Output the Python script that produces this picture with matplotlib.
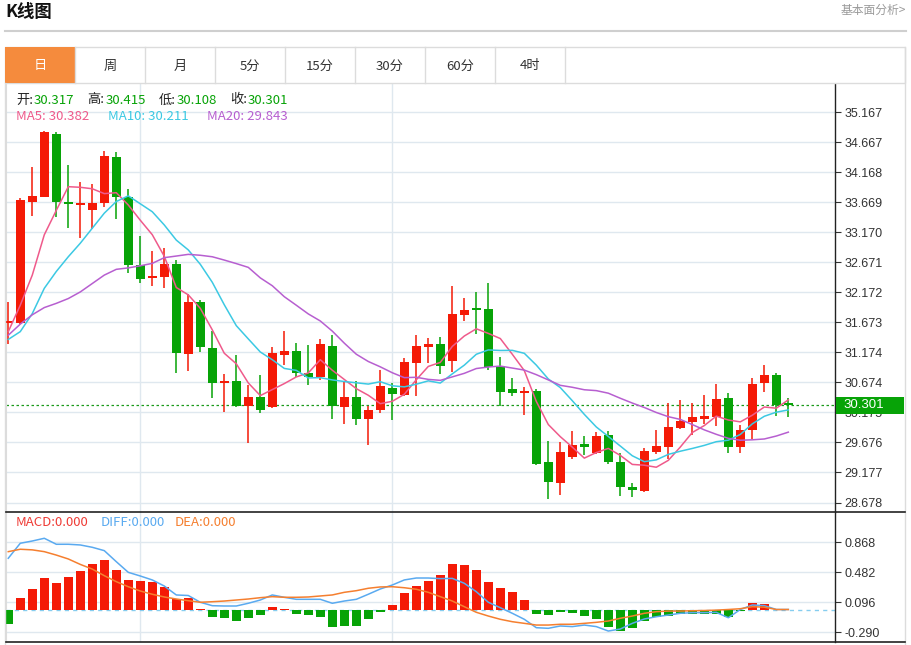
import matplotlib
matplotlib.use('Agg')
import matplotlib.pyplot as plt
from matplotlib.patches import Rectangle
import numpy as np
import pandas as pd

plt.rcParams['font.family'] = ['Noto Sans CJK SC', 'DejaVu Sans']

# daily candles
opens = [31.66, 31.657, 33.675, 33.763, 34.806, 33.68, 33.63, 33.542, 33.653, 34.428,
         33.753, 32.627, 32.41, 32.433, 32.644, 31.147, 32.017, 31.252, 30.66, 30.703,
         30.282, 30.426, 30.26, 31.13, 31.197, 30.83, 30.76, 31.28, 30.26, 30.431,
         30.066, 30.215, 30.581, 30.465, 31.002, 31.258, 31.313, 31.03, 31.795, 31.895,
         31.895, 30.947, 30.569, 30.50, 30.531, 29.345, 28.996, 29.438, 29.65, 29.505,
         29.80, 29.355, 28.94, 28.873, 29.522, 29.605, 29.92, 30.02, 30.07, 30.094,
         30.42, 29.594, 29.883, 30.659, 30.797, 30.317]
highs = [32.02, 33.74, 34.262, 34.856, 34.84, 34.29, 34.008, 33.975, 34.53, 34.507,
         33.886, 33.109, 32.86, 32.915, 32.71, 32.145, 32.045, 31.534, 30.814, 31.13,
         30.63, 30.797, 31.258, 31.53, 31.325, 31.296, 31.396, 31.463, 30.686, 30.697,
         30.282, 30.88, 30.66, 31.075, 31.463, 31.408, 31.425, 32.283, 32.083, 32.183,
         32.323, 31.092, 30.743, 30.593, 30.56, 29.699, 29.678, 29.866, 29.783, 29.855,
         29.871, 29.495, 29.006, 29.578, 29.882, 30.327, 30.381, 30.337, 30.465, 30.648,
         30.493, 29.965, 30.743, 30.964, 30.836, 30.415]
lows = [31.31, 31.65, 33.447, 33.763, 33.42, 33.237, 33.076, 33.22, 33.587, 33.397,
        32.499, 32.323, 32.278, 32.24, 30.826, 30.869, 31.185, 30.41, 30.177, 30.27,
        29.66, 30.17, 30.243, 30.97, 30.77, 30.63, 30.714, 30.06, 29.977, 29.965,
        29.633, 30.17, 30.049, 30.453, 30.453, 31.002, 30.814, 30.853, 31.70, 31.474,
        30.88, 30.282, 30.448, 30.132, 29.30, 28.735, 28.801, 29.40, 29.466, 29.483,
        29.312, 28.785, 28.773, 28.856, 29.483, 29.395, 29.894, 29.80, 29.98, 29.95,
        29.495, 29.505, 29.728, 30.52, 30.116, 30.108]
closes = [31.68, 33.708, 33.775, 34.844, 33.675, 33.65, 33.658, 33.653, 34.44, 33.753,
          32.627, 32.389, 32.449, 32.644, 31.158, 32.017, 31.268, 30.659, 30.698, 30.282,
          30.426, 30.215, 31.158, 31.197, 30.836, 30.76, 31.313, 30.282, 30.431, 30.071,
          30.21, 30.614, 30.48, 31.014, 31.28, 31.318, 30.947, 31.812, 31.878, 31.88,
          30.935, 30.52, 30.503, 30.52, 29.317, 29.013, 29.512, 29.633, 29.605, 29.783,
          29.355, 28.929, 28.885, 29.538, 29.616, 29.927, 30.037, 30.094, 30.116, 30.398,
          29.605, 29.883, 30.648, 30.797, 30.298, 30.301]

# moving-average values before a full window is on screen
ma5_head = [31.52, 31.96, 32.46, 33.13]
ma10_head = [31.39, 31.52, 31.82, 32.24, 32.52, 32.765, 32.99, 33.24, 33.49]
ma20_head = [31.46, 31.645, 31.80, 31.92, 31.99, 32.07, 32.18, 32.32, 32.46, 32.556,
             32.58, 32.615, 32.655, 32.75, 32.777, 32.805, 32.79, 32.765, 32.71]

# MACD panel
macd_hist = [-0.19, 0.15, 0.27, 0.405, 0.337, 0.418, 0.50, 0.58, 0.637, 0.504,
             0.376, 0.363, 0.35, 0.293, 0.131, 0.148, 0.005, -0.093, -0.113, -0.148,
             -0.113, -0.071, 0.03, 0.003, -0.054, -0.071, -0.093, -0.22, -0.212, -0.212,
             -0.126, -0.028, 0.058, 0.208, 0.302, 0.37, 0.44, 0.58, 0.577, 0.508,
             0.358, 0.28, 0.221, 0.118, -0.054, -0.071, -0.028, -0.04, -0.08, -0.126,
             -0.229, -0.272, -0.234, -0.144, -0.10, -0.08, -0.06, -0.06, -0.06, -0.06,
             -0.10, -0.02, 0.08, 0.067, 0.0, 0.0]
diff = [0.659, 0.852, 0.881, 0.916, 0.839, 0.839, 0.83, 0.80, 0.757, 0.615,
        0.478, 0.431, 0.38, 0.302, 0.187, 0.18, 0.093, 0.049, 0.045, 0.045,
        0.08, 0.122, 0.187, 0.157, 0.131, 0.131, 0.131, 0.08, 0.109, 0.131,
        0.196, 0.264, 0.315, 0.38, 0.405, 0.405, 0.397, 0.40, 0.337, 0.229,
        0.093, 0.023, -0.049, -0.126, -0.234, -0.242, -0.212, -0.22, -0.2, -0.22,
        -0.277, -0.251, -0.178, -0.122, -0.093, -0.071, -0.049, -0.041, -0.041, -0.037,
        -0.106, 0.0, 0.058, 0.05, 0.0, 0.0]
dea = [0.744, 0.775, 0.767, 0.744, 0.70, 0.65, 0.58, 0.52, 0.435, 0.358,
       0.293, 0.238, 0.196, 0.161, 0.135, 0.113, 0.093, 0.1, 0.109, 0.122,
       0.135, 0.152, 0.165, 0.157, 0.157, 0.161, 0.174, 0.187, 0.221, 0.242,
       0.273, 0.29, 0.293, 0.28, 0.26, 0.221, 0.165, 0.109, 0.036, -0.036,
       -0.084, -0.126, -0.157, -0.178, -0.2, -0.2, -0.19, -0.19, -0.178, -0.165,
       -0.148, -0.113, -0.084, -0.049, -0.028, -0.02, -0.02, -0.016, -0.013, -0.008,
       0.0, 0.01, 0.036, 0.03, 0.0, 0.0]

price_ticks = ['35.167', '34.667', '34.168', '33.669', '33.170', '32.671', '32.172',
               '31.673', '31.174', '30.674', '30.175', '29.676', '29.177', '28.678']
macd_ticks = ['0.868', '0.482', '0.096', '-0.290']
tabs = ['日', '周', '月', '5分', '15分', '30分', '60分', '4时']
vgrid_idx = [11, 32]

RED = '#f41a06'
GREEN = '#07a307'
C_MA5, C_MA10, C_MA20 = '#ef5a8b', '#3cc9e3', '#b75fd0'
C_DIFF, C_DEA = '#5aaaf0', '#f57f2f'
GRID = '#dfe8ef'
TICK_FONT = 'Liberation Sans'

idx = np.arange(len(closes))
cl = pd.Series(closes)
ma5 = cl.rolling(5).mean().to_numpy()
ma10 = cl.rolling(10).mean().to_numpy()
ma20 = cl.rolling(20).mean().to_numpy()
ma5[:len(ma5_head)] = ma5_head
ma10[:len(ma10_head)] = ma10_head
ma20[:len(ma20_head)] = ma20_head

W, H = 912, 645
fig = plt.figure(figsize=(W / 100, H / 100), dpi=100)

def box(x0, y0, x1, y1):
    return [x0 / W, 1 - y1 / H, (x1 - x0) / W, (y1 - y0) / H]

ax = fig.add_axes(box(6, 83, 835, 512))
mx = fig.add_axes(box(6, 512, 835, 642))

# ---- price panel
for i in idx:
    o, h, l, c = opens[i], highs[i], lows[i], closes[i]
    col = RED if c >= o else GREEN
    ax.vlines(i, l, h, color=col, lw=1.1, zorder=3)
    body = max(abs(c - o), 0.03)
    ax.bar(i, body, bottom=min(o, c), width=0.75, color=col, zorder=4, linewidth=0)

ax.plot(idx, ma5, color=C_MA5, lw=1.1, zorder=5)
ax.plot(idx, ma10, color=C_MA10, lw=1.1, zorder=5)
ax.plot(idx, ma20, color=C_MA20, lw=1.1, zorder=5)
ax.axhline(closes[-1], color='#1a9a1a', lw=0.9, ls=(0, (2, 2)), zorder=2)

pt = [float(t) for t in price_ticks]
ax.set_yticks(pt)
ax.set_yticklabels(price_ticks)
ax.set_ylim(28.52, 35.655)
ax.set_xlim(-0.19, 68.89)
ax.set_xticks([])

# ---- MACD panel
hcol = [RED if v > 0 else GREEN for v in macd_hist]
mx.bar(idx, macd_hist, width=0.75, color=hcol, linewidth=0, zorder=3)
mx.plot(idx, diff, color=C_DIFF, lw=1.1, zorder=4)
mx.plot(idx, dea, color=C_DEA, lw=1.1, zorder=4)
mx.axhline(0, color='#86cdef', lw=1, ls=(0, (3, 3)), zorder=2)
mt = [float(t) for t in macd_ticks]
mx.set_yticks(mt)
mx.set_yticklabels(macd_ticks)
mx.set_ylim(-0.418, 1.254)
mx.set_xlim(-0.19, 68.89)
mx.set_xticks([])

for a in (ax, mx):
    a.yaxis.tick_right()
    a.tick_params(axis='y', length=4, width=0.8, color='#333333', labelcolor='#333333',
                  labelsize=9, pad=3)
    for lab in a.get_yticklabels():
        lab.set_family(TICK_FONT)
    a.grid(axis='y', color=GRID, lw=1, zorder=0)
    for v in vgrid_idx:
        a.axvline(v, color=GRID, lw=1, zorder=0)
    a.spines['top'].set_visible(False)
    a.spines['bottom'].set_visible(False)
    a.spines['left'].set_color('#dcdcdc')
    a.spines['right'].set_color('#222222')
    a.spines['right'].set_linewidth(1)
    a.set_facecolor('white')

# ---- page decorations, in pixel coordinates
ov = fig.add_axes([0, 0, 1, 1], zorder=10)
ov.set_xlim(0, W)
ov.set_ylim(H, 0)
ov.axis('off')
ov.patch.set_alpha(0)

ov.text(5, 12, 'K线图', fontsize=12.5, fontweight='bold', color='#111111', va='center')
ov.text(906, 10, '基本面分析>', fontsize=8.5, color='#9a9a9a', va='center', ha='right')
ov.plot([5, 906], [31, 31], color='#cfcfcf', lw=1.5)

# tab bar
ov.add_patch(Rectangle((5, 47), 900, 36, facecolor='white', edgecolor='#dcdcdc', lw=1))
ov.add_patch(Rectangle((5, 47), 70, 36, facecolor='#f58b3d', edgecolor='none'))
for k, t in enumerate(tabs):
    x0 = 5 + 70 * k
    ov.plot([x0 + 70, x0 + 70], [47, 83], color='#dcdcdc', lw=1)
    ov.text(x0 + 35, 66, t, fontsize=9.5, ha='center', va='center',
            color='white' if k == 0 else '#333333')

# frame
ov.plot([905, 905], [47, 645], color='#dcdcdc', lw=1)
ov.plot([5.5, 5.5], [83, 645], color='#dcdcdc', lw=1)
ov.plot([6, 905], [512, 512], color='#222222', lw=1.2)
ov.plot([6, 905], [642, 642], color='#222222', lw=1.2)

# info lines
info = [('开:', 16, '#222222'), ('30.317', 34, GREEN), ('高:', 87, '#222222'), ('30.415', 106, GREEN),
        ('低:', 159, '#222222'), ('30.108', 177, GREEN), ('收:', 230, '#222222'), ('30.301', 248, GREEN)]
for t, x, c in info:
    ov.text(x, 100, t, fontsize=9.5, color=c, va='center')
ov.text(16, 117, 'MA5: 30.382', fontsize=9.5, color=C_MA5, va='center')
ov.text(108, 117, 'MA10: 30.211', fontsize=9.5, color=C_MA10, va='center')
ov.text(207, 117, 'MA20: 29.843', fontsize=9.5, color=C_MA20, va='center')

ov.text(16, 523, 'MACD:0.000', fontsize=9.5, color='#ef3b35', va='center')
ov.text(101, 523, 'DIFF:0.000', fontsize=9.5, color=C_DIFF, va='center')
ov.text(175, 523, 'DEA:0.000', fontsize=9.5, color=C_DEA, va='center')

# last price tag (covers most of the 30.175 tick label, as on the page)
ov.add_patch(Rectangle((836, 397), 68, 17, facecolor=GREEN, edgecolor='none'))
ov.text(843, 405.5, '%.3f' % closes[-1], fontsize=9.5, color='white', va='center',
        family=TICK_FONT)

fig.savefig('out.png', dpi=100, facecolor='white')
